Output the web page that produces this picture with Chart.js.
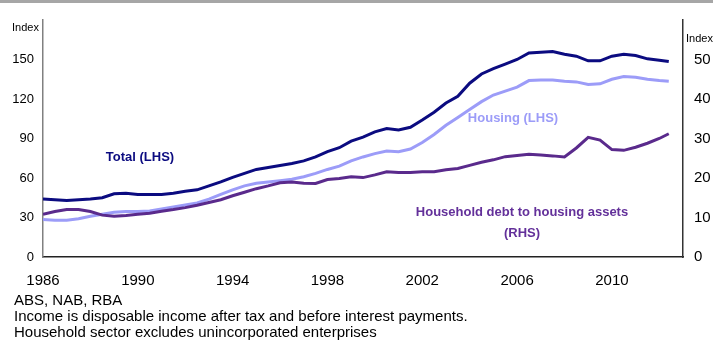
<!DOCTYPE html>
<html>
<head>
<meta charset="utf-8">
<script src="https://cdn.jsdelivr.net/npm/chart.js@4.4.1/dist/chart.umd.min.js"></script>
<style>
  html, body { margin: 0; padding: 0; background: #fff; }
  #wrap { position: relative; width: 713px; height: 341px; }
  #topbar { position: absolute; left: 0; top: 0; width: 713px; height: 3px; background: #a6a6a6; }
  canvas { position: absolute; left: 0; top: 0; }
</style>
</head>
<body>
<div id="wrap">
  <canvas id="chart" width="713" height="341"></canvas>
  <div id="topbar"></div>
</div>
<script>
const years = [
  1986.0, 1986.5, 1987.0, 1987.5, 1988.0, 1988.5, 1989.0, 1989.5, 1990.0, 1990.5,
  1991.0, 1991.5, 1992.0, 1992.5, 1993.0, 1993.5, 1994.0, 1994.5, 1995.0, 1995.5,
  1996.0, 1996.5, 1997.0, 1997.5, 1998.0, 1998.5, 1999.0, 1999.5, 2000.0, 2000.5,
  2001.0, 2001.5, 2002.0, 2002.5, 2003.0, 2003.5, 2004.0, 2004.5, 2005.0, 2005.5,
  2006.0, 2006.5, 2007.0, 2007.5, 2008.0, 2008.5, 2009.0, 2009.5, 2010.0, 2010.5,
  2011.0, 2011.5, 2012.0, 2012.4
];
// Total (LHS)
const totalLHS = [
  44, 43.5, 43, 43.5, 44, 45, 48, 48.5, 47.5, 47.5,
  47.5, 48.5, 50, 51, 54, 57, 60.5, 63.5, 66.5, 68,
  69.5, 71, 73, 76, 80, 83, 88, 91, 95, 97.5,
  96.5, 98.5, 104, 110, 117, 122, 132, 139, 143, 146.5,
  150, 155, 155.5, 156, 154, 152.5, 149, 149, 152.5, 154,
  153, 150.5, 149.5, 148.5
];
// Housing (LHS)
const housingLHS = [
  28.5, 28, 28, 29, 31, 32.5, 34, 34.5, 34.5, 35,
  36.5, 38, 39.5, 41, 44, 47.5, 51, 54, 56, 57,
  58, 59, 61, 63.5, 66.5, 69, 73, 76, 78.5, 80.5,
  80, 82, 87, 93, 100, 106, 112, 118, 123, 126,
  129, 134, 134.5, 134.5, 133.5, 133, 131, 131.5, 135, 137,
  136.5, 135, 134, 133.5
];
// Household debt to housing assets (RHS)
const debtRHS = [
  10.8, 11.5, 12, 12, 11.5, 10.6, 10.3, 10.5, 10.8, 11.1,
  11.6, 12, 12.5, 13.1, 13.8, 14.5, 15.5, 16.4, 17.3, 18,
  18.8, 19, 18.7, 18.6, 19.6, 19.9, 20.3, 20.1, 20.8, 21.6,
  21.4, 21.4, 21.6, 21.6, 22.1, 22.4, 23.2, 24, 24.6, 25.4,
  25.7, 26, 25.8, 25.6, 25.3, 27.6, 30.3, 29.6, 27.2, 27,
  27.8, 28.8, 30, 31.2
];

const xTicks = [1986, 1990, 1994, 1998, 2002, 2006, 2010];
const leftTicks = [0, 30, 60, 90, 120, 150];
const rightTicks = [0, 10, 20, 30, 40, 50];
const footnotes = [
  'ABS, NAB, RBA',
  'Income is disposable income after tax and before interest payments.',
  'Household sector excludes unincorporated enterprises'
];

const FONT = '"Liberation Sans", Arial, sans-serif';
const NAVY = '#0b0b80';
const LAVENDER = '#9c9cf8';
const PURPLE = '#5a2a8c';

function pts(vals) {
  return years.map((y, i) => ({ x: y, y: vals[i] }));
}

const labelsPlugin = {
  id: 'labels',
  afterDraw(chart) {
    const ctx = chart.ctx;
    ctx.save();
    ctx.textBaseline = 'middle';

    ctx.fillStyle = '#000';
    ctx.font = '11px ' + FONT;
    ctx.textAlign = 'left';
    ctx.fillText('Index', 12, 28);
    ctx.fillText('Index', 686, 39);

    ctx.font = 'bold 13px ' + FONT;
    ctx.textAlign = 'center';
    ctx.fillStyle = NAVY;
    ctx.fillText('Total (LHS)', 140, 157);
    ctx.fillStyle = LAVENDER;
    ctx.fillText('Housing (LHS)', 513, 118);
    ctx.fillStyle = '#63309a';
    ctx.fillText('Household debt to housing assets', 522, 212);
    ctx.fillText('(RHS)', 522, 233);

    ctx.fillStyle = '#000';
    ctx.font = '15px ' + FONT;
    ctx.textAlign = 'left';
    footnotes.forEach((t, i) => ctx.fillText(t, 14, 301 + i * 16));
    ctx.restore();
  }
};

new Chart(document.getElementById('chart'), {
  type: 'line',
  data: {
    datasets: [
      { label: 'Household debt to housing assets (RHS)', data: pts(debtRHS), yAxisID: 'yR',
        borderColor: PURPLE, borderWidth: 3, pointRadius: 0, tension: 0 },
      { label: 'Housing (LHS)', data: pts(housingLHS), yAxisID: 'yL',
        borderColor: LAVENDER, borderWidth: 3, pointRadius: 0, tension: 0 },
      { label: 'Total (LHS)', data: pts(totalLHS), yAxisID: 'yL',
        borderColor: NAVY, borderWidth: 3, pointRadius: 0, tension: 0 }
    ]
  },
  options: {
    responsive: false,
    animation: false,
    layout: { padding: { top: 14, left: 0, right: 0, bottom: 0 } },
    plugins: { legend: { display: false }, tooltip: { enabled: false } },
    scales: {
      x: {
        type: 'linear', min: 1986, max: 2013,
        afterBuildTicks: s => { s.ticks = xTicks.map(v => ({ value: v })); },
        afterFit: s => { s.height = 84; },
        grid: { display: false, drawTicks: false },
        border: { display: true, color: '#222', width: 1.5 },
        ticks: { padding: 15, color: '#000', font: { family: FONT, size: 15 }, maxRotation: 0,
                 callback: v => String(v) }
      },
      yL: {
        position: 'left', min: 0, max: 180,
        afterBuildTicks: s => { s.ticks = leftTicks.map(v => ({ value: v })); },
        afterFit: s => { s.width = 43; },
        grid: { display: false, drawTicks: false },
        border: { display: true, color: '#808080', width: 1.5 },
        ticks: { padding: 9, color: '#000', font: { family: FONT, size: 13 } }
      },
      yR: {
        position: 'right', min: 0, max: 60,
        afterBuildTicks: s => { s.ticks = rightTicks.map(v => ({ value: v })); },
        afterFit: s => { s.width = 30; },
        grid: { display: false, drawTicks: false },
        border: { display: true, color: '#333', width: 1.5 },
        ticks: { padding: 11, color: '#000', font: { family: FONT, size: 15 } }
      }
    }
  },
  plugins: [labelsPlugin]
});
</script>
</body>
</html>
